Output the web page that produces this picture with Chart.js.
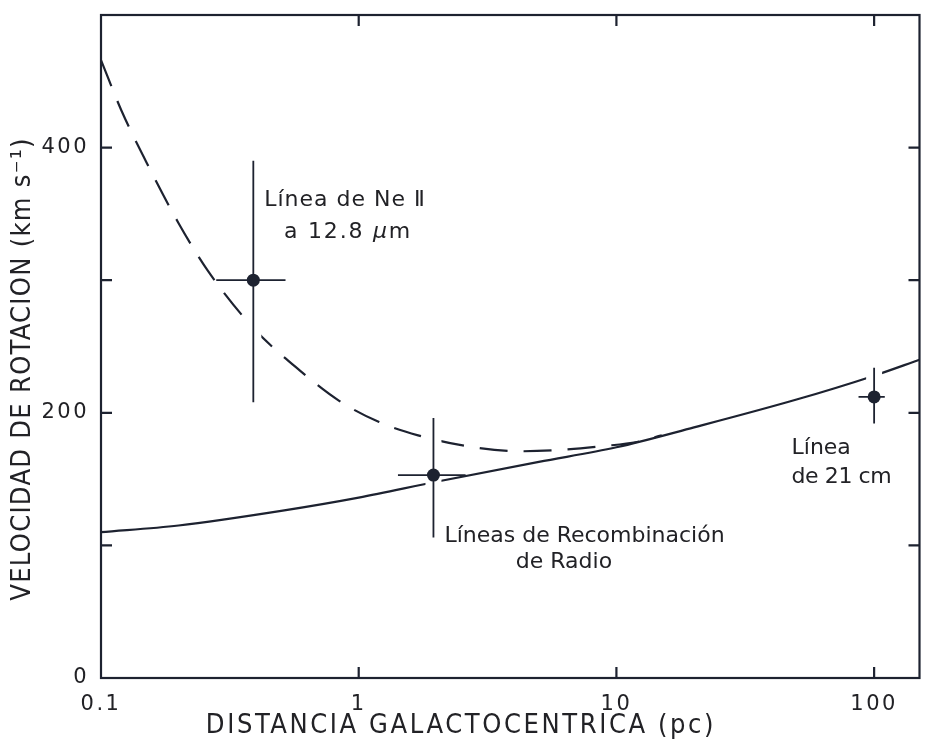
<!DOCTYPE html>
<html>
<head>
<meta charset="utf-8">
<script src="https://cdn.jsdelivr.net/npm/chart.js@4/dist/chart.umd.min.js"></script>
<style>
  html, body { margin: 0; padding: 0; background: #ffffff; }
  #wrap { width: 926px; height: 744px; }
</style>
</head>
<body>
<div id="wrap"><canvas id="c" width="926" height="744"></canvas></div>
<script>
// Rotation curve of the Galactic centre region
// Mass-model curve (solid)
const modelDist = [0.1, 0.2, 0.5, 1, 2, 5, 10, 20, 50, 100, 150];
const modelVel  = [110, 115, 126, 136, 148, 163, 174, 189, 210, 228, 240];

// Curve including a central point mass (dashed)
const pointMassDist = [0.1, 0.12, 0.15, 0.2, 0.26, 0.39, 0.59, 0.84, 1.2, 1.7, 2.8, 4.2, 6, 9, 12, 15];
const pointMassVel  = [466, 428, 389, 343, 307, 264, 232, 209, 193, 183, 174, 171, 172, 175, 178, 183];

// Observations: Ne II 12.8 µm, radio recombination lines, 21 cm line
const obsDist    = [0.39, 1.95, 100];
const obsVel     = [300, 153, 212];
const obsDistLow = [0.28, 1.42, 87];
const obsDistHigh= [0.52, 2.6, 110];
const obsVelLow  = [208, 106, 192];
const obsVelHigh = [390, 196, 234];

// Axis ticks
const xTickValues = [0.1, 1, 10, 100];
const xTickLabels = ['0.1', '1', '10', '100'];
const yTickValues = [0, 100, 200, 300, 400];
const yTickLabels = ['0', '', '200', '', '400'];

// Axis titles
const xTitle = 'DISTANCIA GALACTOCENTRICA (pc)';
const yTitle = 'VELOCIDAD DE ROTACION (km s⁻¹)';

const INK = '#1d2230';
const TEXT = '#222226';
const FONT = "'DejaVu Sans', sans-serif";
const TITLE_FONT = "'DejaVu Sans Condensed', 'Liberation Sans Narrow', 'DejaVu Sans', sans-serif";

// Text placed next to each observation (left edge in data coordinates)
const notes = [
  { x: 0.43,  y: 360, sp: 1,   runs: [{ t: 'Línea de Ne Ⅱ' }] },
  { x: 0.513, y: 336, sp: 1.8, runs: [{ t: 'a 12.8 ' }, { t: 'μ', italic: true }, { t: 'm' }] },
  { x: 2.15,  y: 107, sp: 0,   runs: [{ t: 'Líneas de Recombinación' }] },
  { x: 4.07,  y: 87,  sp: 0,   runs: [{ t: 'de Radio' }] },
  { x: 47.8,  y: 173, sp: 0,   runs: [{ t: 'Línea' }] },
  { x: 47.8,  y: 151, sp: -0.4, runs: [{ t: 'de 21 cm' }] }
];

const toPoints = (xs, ys) => xs.map((x, i) => ({ x: x, y: ys[i] }));

// Frame, inward tick marks, error bars, titles and notes
const decor = {
  id: 'decor',
  beforeDraw(chart) {
    chart.ctx.letterSpacing = '2.5px';
  },
  afterDatasetDraw(chart, args) {
    if (args.index !== 1) return;
    const ctx = chart.ctx;
    const xs = chart.scales.x, ys = chart.scales.y;
    ctx.save();
    ctx.lineCap = 'butt';
    // clear a narrow band around each vertical bar
    ctx.strokeStyle = '#ffffff';
    ctx.lineWidth = 16;
    obsDist.forEach((d, i) => {
      const px = xs.getPixelForValue(d);
      ctx.beginPath();
      ctx.moveTo(px, ys.getPixelForValue(obsVelHigh[i]));
      ctx.lineTo(px, ys.getPixelForValue(obsVelLow[i]));
      ctx.stroke();
    });
    ctx.strokeStyle = INK;
    ctx.lineWidth = 1.8;
    obsDist.forEach((d, i) => {
      const px = xs.getPixelForValue(d);
      const py = ys.getPixelForValue(obsVel[i]);
      ctx.beginPath();
      ctx.moveTo(px, ys.getPixelForValue(obsVelHigh[i]));
      ctx.lineTo(px, ys.getPixelForValue(obsVelLow[i]));
      ctx.moveTo(xs.getPixelForValue(obsDistLow[i]), py);
      ctx.lineTo(xs.getPixelForValue(obsDistHigh[i]), py);
      ctx.stroke();
    });
    ctx.restore();
  },
  afterDraw(chart) {
    const ctx = chart.ctx;
    const a = chart.chartArea;
    const xs = chart.scales.x, ys = chart.scales.y;
    ctx.save();
    ctx.strokeStyle = INK;
    ctx.lineWidth = 2.2;
    ctx.strokeRect(a.left, a.top, a.right - a.left, a.bottom - a.top);
    const len = 11;
    ctx.beginPath();
    xTickValues.forEach(v => {
      const px = xs.getPixelForValue(v);
      if (px <= a.left + 1 || px >= a.right - 1) return;
      ctx.moveTo(px, a.bottom); ctx.lineTo(px, a.bottom - len);
      ctx.moveTo(px, a.top);    ctx.lineTo(px, a.top + len);
    });
    yTickValues.forEach(v => {
      const py = ys.getPixelForValue(v);
      if (py >= a.bottom - 1 || py <= a.top + 1) return;
      ctx.moveTo(a.left, py);  ctx.lineTo(a.left + len, py);
      ctx.moveTo(a.right, py); ctx.lineTo(a.right - len, py);
    });
    ctx.stroke();

    ctx.fillStyle = TEXT;
    ctx.textBaseline = 'middle';

    // axis titles
    ctx.font = '27px ' + TITLE_FONT;
    ctx.textAlign = 'center';
    ctx.letterSpacing = '2.6px';
    ctx.fillText(xTitle, 461, 726);
    ctx.save();
    ctx.translate(23, 369);
    ctx.rotate(-Math.PI / 2);
    ctx.letterSpacing = '1.3px';
    ctx.fillText(yTitle, 0, 0);
    ctx.restore();

    // notes
    ctx.textAlign = 'left';
    notes.forEach(n => {
      let px = xs.getPixelForValue(n.x);
      const py = ys.getPixelForValue(n.y);
      ctx.letterSpacing = n.sp + 'px';
      n.runs.forEach(r => {
        ctx.font = (r.italic ? 'italic ' : '') + '22px ' + FONT;
        ctx.fillText(r.t, px, py);
        px += ctx.measureText(r.t).width;
      });
    });
    ctx.restore();
  }
};

new Chart(document.getElementById('c'), {
  type: 'scatter',
  data: {
    datasets: [
      {
        label: 'Observaciones',
        data: toPoints(obsDist, obsVel),
        pointRadius: 6.5,
        pointBackgroundColor: INK,
        pointBorderColor: INK,
        pointBorderWidth: 0,
        showLine: false
      },
      {
        label: 'Modelo',
        data: toPoints(modelDist, modelVel),
        showLine: true,
        borderColor: INK,
        borderWidth: 2.2,
        pointRadius: 0,
        cubicInterpolationMode: 'monotone',
        fill: false
      },
      {
        label: 'Modelo con masa central',
        data: toPoints(pointMassDist, pointMassVel),
        showLine: true,
        borderColor: INK,
        borderWidth: 2.2,
        borderDash: [28, 16],
        pointRadius: 0,
        cubicInterpolationMode: 'monotone',
        fill: false
      }
    ]
  },
  options: {
    responsive: false,
    animation: false,
    devicePixelRatio: 1,
    layout: { padding: { top: 15, right: 4, left: 0, bottom: 0 } },
    plugins: {
      legend: { display: false },
      tooltip: { enabled: false }
    },
    scales: {
      x: {
        type: 'logarithmic',
        min: 0.1,
        max: 150,
        afterFit(s) { s.height = 66; s.paddingLeft = 0; s.paddingRight = 0; },
        afterBuildTicks(s) { s.ticks = xTickValues.map(v => ({ value: v })); },
        grid: { display: false, drawTicks: false },
        border: { display: false },
        ticks: {
          autoSkip: false,
          maxRotation: 0,
          padding: 14,
          color: TEXT,
          font: { family: FONT, size: 21 },
          callback(v) { const i = xTickValues.indexOf(v); return i >= 0 ? xTickLabels[i] : ''; }
        },
        title: { display: false }
      },
      y: {
        min: 0,
        max: 500,
        afterFit(s) { s.width = 101; s.paddingTop = 0; s.paddingBottom = 0; },
        afterBuildTicks(s) { s.ticks = yTickValues.map(v => ({ value: v })); },
        grid: { display: false, drawTicks: false },
        border: { display: false },
        ticks: {
          autoSkip: false,
          padding: 12,
          color: TEXT,
          font: { family: FONT, size: 21 },
          callback(v) { const i = yTickValues.indexOf(v); return i >= 0 ? yTickLabels[i] : ''; }
        },
        title: { display: false }
      }
    }
  },
  plugins: [decor]
});
</script>
</body>
</html>
